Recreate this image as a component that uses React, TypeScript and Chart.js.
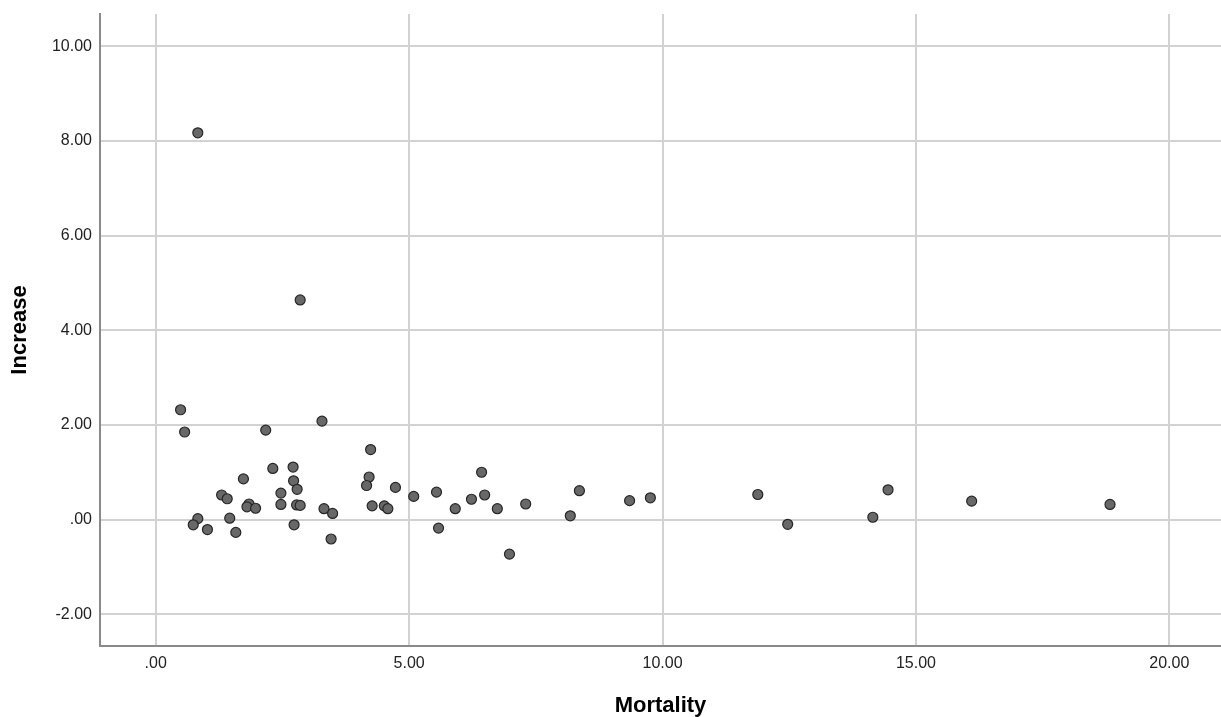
import React, { useEffect, useRef } from "react";
import { Chart, registerables } from "chart.js";

Chart.register(...registerables);

const mortality = [
  0.49, 0.57, 2.17, 3.28, 2.31, 2.71, 2.72, 2.79, 1.73, 1.30,
  1.41, 2.47, 2.47, 2.78, 2.85, 1.84, 1.80, 1.97, 3.32, 3.49,
  0.83, 0.74, 1.02, 1.46, 1.58, 2.73, 3.46, 4.24, 4.21, 4.16,
  4.73, 4.27, 4.51, 4.58, 5.09, 5.54, 5.58, 5.91, 6.23, 6.43,
  6.49, 6.74, 6.98, 7.30, 8.18, 8.36, 9.35, 9.76, 11.88, 12.47,
  14.15, 14.45, 16.10, 18.83, 0.83, 2.85,
];

const increase = [
  2.32, 1.85, 1.89, 2.08, 1.08, 1.11, 0.82, 0.64, 0.86, 0.52,
  0.44, 0.56, 0.32, 0.31, 0.30, 0.33, 0.27, 0.24, 0.23, 0.13,
  0.02, -0.11, -0.21, 0.03, -0.27, -0.11, -0.41, 1.48, 0.90, 0.72,
  0.68, 0.29, 0.29, 0.23, 0.49, 0.58, -0.18, 0.23, 0.43, 1.00,
  0.52, 0.23, -0.73, 0.33, 0.08, 0.61, 0.40, 0.46, 0.53, -0.10,
  0.05, 0.63, 0.39, 0.32, 8.17, 4.64,
];

const xTickValues = [0, 5, 10, 15, 20];
const xTickLabels = [".00", "5.00", "10.00", "15.00", "20.00"];
const yTickValues = [-2, 0, 2, 4, 6, 8, 10];
const yTickLabels = ["-2.00", ".00", "2.00", "4.00", "6.00", "8.00", "10.00"];

const xTitle = "Mortality";
const yTitle = "Increase";

const FONT = "'Liberation Sans', Arial, sans-serif";

export default function App() {
  const ref = useRef<HTMLCanvasElement | null>(null);

  useEffect(() => {
    if (!ref.current) return;
    const points = mortality.map((m, i) => ({ x: m, y: increase[i] }));
    const chart = new Chart(ref.current, {
      type: "scatter",
      data: {
        datasets: [
          {
            data: points,
            backgroundColor: "#686868",
            borderColor: "#262626",
            borderWidth: 1.2,
            pointRadius: 5,
            pointHoverRadius: 5,
          },
        ],
      },
      options: {
        animation: false,
        responsive: false,
        events: [],
        layout: { autoPadding: false, padding: { top: 14, right: 0, bottom: 0, left: 0 } },
        plugins: {
          legend: { display: false },
          tooltip: { enabled: false },
        },
        scales: {
          x: {
            type: "linear",
            min: -1.1,
            max: 21.02,
            afterBuildTicks: (s: any) => {
              s.ticks = xTickValues.map((v) => ({ value: v }));
            },
            afterFit: (s: any) => {
              s.height = 71;
              s.paddingLeft = 0;
              s.paddingRight = 0;
            },
            grid: { color: "#d2d2d2", lineWidth: 2, drawTicks: false },
            border: { color: "#8a8a8a", width: 2 },
            ticks: {
              padding: 8,
              color: "#222",
              font: { family: FONT, size: 16 },
              maxRotation: 0,
              callback: (v: any) => {
                const i = xTickValues.indexOf(Number(v));
                return i >= 0 ? xTickLabels[i] : "";
              },
            },
            title: {
              display: true,
              text: xTitle,
              color: "#000",
              font: { family: FONT, size: 22, weight: "bold", lineHeight: 1 },
              padding: { top: 0, bottom: 0 },
            },
          },
          y: {
            type: "linear",
            min: -2.67,
            max: 10.68,
            afterBuildTicks: (s: any) => {
              s.ticks = yTickValues.map((v) => ({ value: v }));
            },
            afterFit: (s: any) => {
              s.width = 100;
              s.paddingTop = 0;
              s.paddingBottom = 0;
            },
            grid: { color: "#d2d2d2", lineWidth: 2, drawTicks: false },
            border: { color: "#8a8a8a", width: 2 },
            ticks: {
              padding: 8,
              color: "#222",
              font: { family: FONT, size: 16 },
              callback: (v: any) => {
                const i = yTickValues.indexOf(Number(v));
                return i >= 0 ? yTickLabels[i] : "";
              },
            },
            title: {
              display: true,
              text: yTitle,
              color: "#000",
              font: { family: FONT, size: 22, weight: "bold", lineHeight: 1 },
              padding: { top: 9, bottom: 0 },
            },
          },
        },
      },
    });
    return () => chart.destroy();
  }, []);

  return (
    <div style={{ position: "absolute", left: 0, top: 0, width: 1221, height: 717, background: "#fff" }}>
      <canvas ref={ref} width={1221} height={717} style={{ display: "block" }} />
    </div>
  );
}
